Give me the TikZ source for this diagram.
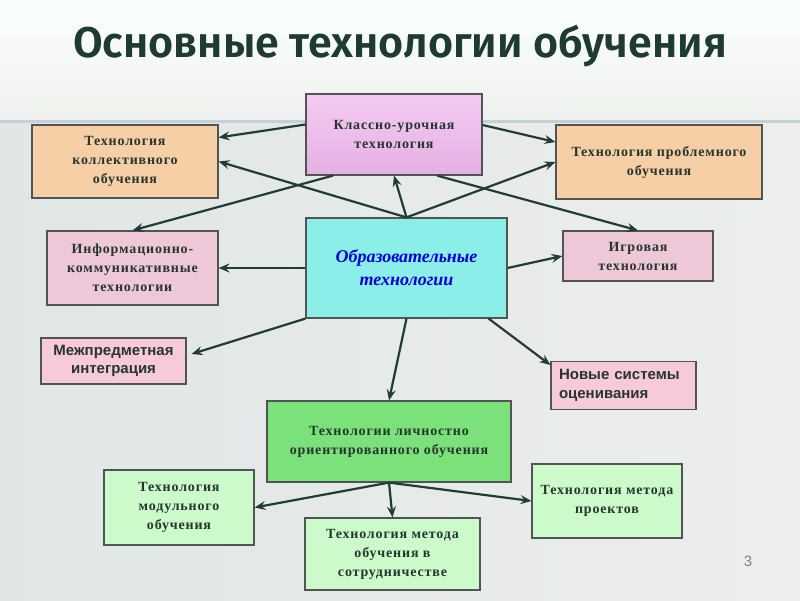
\documentclass[tikz,border=0pt]{standalone}
\usepackage{fontspec}
\setmainfont{Liberation Serif}
\newfontfamily\boxfont[LetterSpace=6]{Liberation Serif}
\newfontfamily\sansbox{Liberation Sans}
\newfontfamily\titlefont[BoldFont={Fira Sans SemiBold}]{Fira Sans}
\usetikzlibrary{arrows.meta}

\definecolor{linkc}{HTML}{1F3D36}
\definecolor{boxline}{HTML}{505553}
\definecolor{txtc}{HTML}{26352D}
\definecolor{titlec}{HTML}{1E3B2F}
\definecolor{lilacc}{HTML}{F3C5F1}
\definecolor{peachc}{HTML}{F6CFA6}
\definecolor{rosec}{HTML}{EEC8D8}
\definecolor{pinkc}{HTML}{F7CAD8}
\definecolor{aquac}{HTML}{8BEEE8}
\definecolor{greenc}{HTML}{7BE27B}
\definecolor{mintc}{HTML}{CCFACA}

\begin{document}
\begin{tikzpicture}[x=1pt, y=-1pt, >={Stealth[length=11pt, width=9pt, inset=4pt]}]
    \tikzstyle{base}  = [draw=boxline, line width=1.2pt, inner sep=2pt, align=center, text=txtc,
                         font=\boxfont\bfseries\fontsize{14}{19}\selectfont]
    \tikzstyle{lilac} = [base, top color=lilacc!90!white, bottom color=lilacc!85!violet!90!white]
    \tikzstyle{peach} = [base, fill=peachc]
    \tikzstyle{rose}  = [base, fill=rosec]
    \tikzstyle{aqua}  = [base, fill=aquac, text=blue!85!black,
                         font=\bfseries\itshape\fontsize{18}{23}\selectfont]
    \tikzstyle{pinks} = [base, fill=pinkc, font=\sansbox\bfseries\fontsize{15}{18.5}\selectfont]
    \tikzstyle{green} = [base, fill=greenc]
    \tikzstyle{mint}  = [base, fill=mintc]
    \tikzstyle{link}  = [->, draw=linkc, line width=2.2pt]

    % фон слайда
    \useasboundingbox (0,0) rectangle (800,600);
    \fill [top color=white!80!green!8, bottom color=green!6!gray!12!white] (0,0) rectangle (800,121);
    \fill [left color=cyan!10!gray!22!white, right color=green!6!gray!14!white] (0,121) rectangle (800,600);
    \draw [line width=3pt, cyan!20!gray!45] (0,121) -- (800,121);

    \node (title) at (400,46) [text=titlec, font=\titlefont\bfseries\fontsize{43}{48}\selectfont]
        {Основные технологии обучения};

    % блоки
    \node (klass)  at (394,134.5) [lilac, minimum width=176pt, minimum height=81pt] {Классно-урочная\\технология};
    \node (koll)   at (125,161.5) [peach, minimum width=186pt, minimum height=73pt] {Технология\\коллективного\\обучения};
    \node (probl)  at (659,162)   [peach, minimum width=206pt, minimum height=74pt] {Технология проблемного\\обучения};
    \node (ikt)    at (132.5,268) [rose,  minimum width=171pt, minimum height=74pt] {Информационно-\\коммуникативные\\технологии};
    \node (obr)    at (406.5,268) [aqua,  minimum width=201pt, minimum height=100pt] {Образовательные\\технологии};
    \node (igr)    at (638,256)   [rose,  minimum width=150pt, minimum height=50pt] {Игровая\\технология};
    \node (mezh)   at (113.5,361) [pinks, minimum width=145pt, minimum height=46pt] {Межпредметная\\интеграция};
    \node (nov)    at (623.5,385.5) [pinks, minimum width=145pt, minimum height=47pt, text width=129pt,
                                     inner sep=8pt, align=left] {Новые системы\\оценивания};
    \node (lich)   at (389,441.5) [green, minimum width=244pt, minimum height=81pt] {Технологии личностно\\ориентированного обучения};
    \node (mod)    at (179,507.5) [mint,  minimum width=150pt, minimum height=75pt] {Технология\\модульного\\обучения};
    \node (sotr)   at (392.5,554) [mint,  minimum width=175pt, minimum height=72pt] {Технология метода\\обучения в\\сотрудничестве};
    \node (proekt) at (607,501)   [mint,  minimum width=150pt, minimum height=74pt] {Технология метода\\проектов};

    \node (num) at (748,561) [text=gray, font=\sansbox\fontsize{15}{17}\selectfont] {3};

    % стрелки от классно-урочной технологии
    \draw [link] ([yshift=10pt]klass.west) -- ([yshift=24pt]koll.east);
    \draw [link] ([xshift=-61pt]klass.south) -- (ikt.north);
    \draw [link] ([yshift=9.5pt]klass.east) -- ([yshift=20pt]probl.west);
    \draw [link] ([xshift=43pt]klass.south) -- (igr.north);

    % стрелки от образовательных технологий
    \draw [link] (obr.north) -- (koll.east);
    \draw [link] (obr.north) -- (klass.south);
    \draw [link] (obr.north) -- (probl.west);
    \draw [link] (obr.west) -- (ikt.east);
    \draw [link] (obr.east) -- (igr.west);
    \draw [link] (obr.south west) -- ([xshift=5pt, yshift=7pt]mezh.east);
    \draw [link] (obr.south) -- (lich.north);
    \draw [link] ([xshift=-19pt]obr.south east) -- ([yshift=-4pt]nov.north west);

    % стрелки от личностно ориентированных технологий
    \draw [link] (lich.south) -- (mod.east);
    \draw [link] (lich.south) -- (sotr.north);
    \draw [link] (lich.south) -- (proekt.west);
\end{tikzpicture}
\end{document}
